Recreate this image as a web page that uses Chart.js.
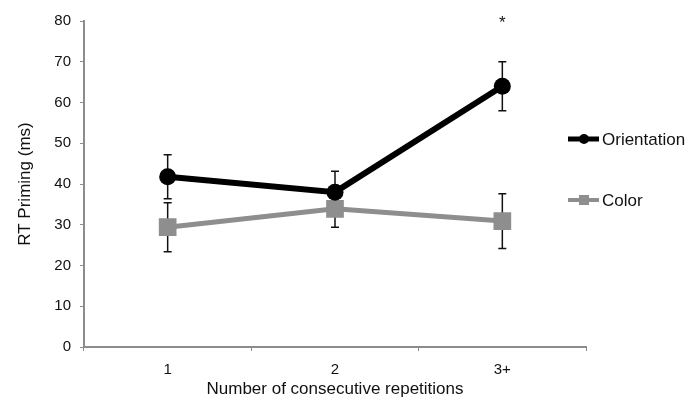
<!DOCTYPE html>
<html>
<head>
<meta charset="utf-8">
<script src="https://cdn.jsdelivr.net/npm/chart.js@4/dist/chart.umd.min.js"></script>
<style>
  html, body { margin: 0; padding: 0; background: #fff; }
  #wrap { width: 688px; height: 400px; }
</style>
</head>
<body>
<div id="wrap"><canvas id="chart" width="688" height="400"></canvas></div>
<script>
// data
const categories = ['1', '2', '3+'];
const orientation = [41.8, 38.0, 64.0];
const orientationErr = [5.4, 5.1, 6.0];
const colorVals = [29.4, 33.9, 30.9];
const colorErr = [6.0, 4.5, 6.7];
const starLabels = ['', '', '*'];
const starValue = 78.3;
const yTicks = [0, 10, 20, 30, 40, 50, 60, 70, 80];

const FONT = '"Liberation Sans", Arial, Helvetica, sans-serif';
const axisGray = '#8c8c8c';

// error bars, drawn under the lines and markers
const errorBars = {
    id: 'errorBars',
    beforeDatasetsDraw(chart) {
        const ctx = chart.ctx;
        const x = chart.scales.x, y = chart.scales.y;
        ctx.save();
        ctx.strokeStyle = '#111';
        ctx.lineWidth = 1.5;
        chart.data.datasets.forEach(ds => {
            ds.data.forEach((v, i) => {
                const e = ds.errors[i];
                const px = x.getPixelForValue(i);
                const top = y.getPixelForValue(v + e);
                const bot = y.getPixelForValue(v - e);
                ctx.beginPath();
                ctx.moveTo(px, top); ctx.lineTo(px, bot);
                ctx.moveTo(px - 4, top); ctx.lineTo(px + 4, top);
                ctx.moveTo(px - 4, bot); ctx.lineTo(px + 4, bot);
                ctx.stroke();
            });
        });
        ctx.restore();
    }
};

// significance star + right hand legend
const extras = {
    id: 'extras',
    afterDraw(chart) {
        const ctx = chart.ctx;
        const x = chart.scales.x, y = chart.scales.y;
        const area = chart.chartArea;
        ctx.save();
        ctx.fillStyle = '#111';
        ctx.font = '17px ' + FONT;
        ctx.textAlign = 'center';
        ctx.textBaseline = 'alphabetic';
        starLabels.forEach((s, i) => {
            if (s) ctx.fillText(s, x.getPixelForValue(i), y.getPixelForValue(starValue));
        });

        const items = chart.data.datasets;
        const lx = area.right - 18;
        const rows = [139, 200];
        items.forEach((ds, k) => {
            const cy = rows[k];
            ctx.strokeStyle = ds.borderColor;
            ctx.fillStyle = ds.borderColor;
            ctx.lineWidth = ds.borderWidth - 1;
            ctx.beginPath();
            ctx.moveTo(lx, cy); ctx.lineTo(lx + 31, cy);
            ctx.stroke();
            if (ds.pointStyle === 'circle') {
                ctx.beginPath();
                ctx.arc(lx + 16, cy, 5, 0, Math.PI * 2);
                ctx.fill();
            } else {
                ctx.fillRect(lx + 11, cy - 5, 10, 10);
            }
            ctx.fillStyle = '#111';
            ctx.font = '17px ' + FONT;
            ctx.textAlign = 'left';
            ctx.textBaseline = 'middle';
            ctx.fillText(ds.label, lx + 34, cy + 1);
        });
        ctx.restore();
    }
};

new Chart(document.getElementById('chart').getContext('2d'), {
    type: 'line',
    data: {
        labels: categories,
        datasets: [
            {
                label: 'Orientation',
                data: orientation,
                errors: orientationErr,
                borderColor: '#000',
                backgroundColor: '#000',
                borderWidth: 6,
                pointStyle: 'circle',
                pointRadius: 8.5,
                pointBorderWidth: 0,
                tension: 0
            },
            {
                label: 'Color',
                data: colorVals,
                errors: colorErr,
                borderColor: '#8e8e8e',
                backgroundColor: '#8e8e8e',
                borderWidth: 5,
                pointStyle: 'rect',
                pointRadius: 12.5,
                pointBorderWidth: 0,
                tension: 0
            }
        ]
    },
    options: {
        responsive: false,
        animation: false,
        layout: { padding: { top: 21, right: 102, bottom: 0, left: 0 } },
        plugins: {
            legend: { display: false },
            tooltip: { enabled: false }
        },
        scales: {
            x: {
                offset: true,
                grid: {
                    offset: true,
                    drawOnChartArea: false,
                    drawTicks: true,
                    tickLength: 4,
                    color: axisGray
                },
                border: { color: axisGray, width: 2 },
                ticks: {
                    color: '#111',
                    font: { family: FONT, size: 15 },
                    padding: 10
                },
                title: {
                    display: true,
                    text: 'Number of consecutive repetitions',
                    color: '#111',
                    font: { family: FONT, size: 17 },
                    padding: { top: 6, bottom: 0 }
                },
                afterFit(scale) { scale.height = 53; }
            },
            y: {
                min: 0,
                max: 80,
                afterBuildTicks(scale) { scale.ticks = yTicks.map(v => ({ value: v })); },
                grid: {
                    drawOnChartArea: false,
                    drawTicks: true,
                    tickLength: 4,
                    color: axisGray
                },
                border: { color: axisGray, width: 2 },
                ticks: {
                    color: '#111',
                    font: { family: FONT, size: 15 },
                    padding: 9
                },
                title: {
                    display: true,
                    text: 'RT Priming (ms)',
                    color: '#111',
                    font: { family: FONT, size: 17 },
                    padding: { top: 15, bottom: 0 }
                },
                afterFit(scale) { scale.width = 84; }
            }
        }
    },
    plugins: [errorBars, extras]
});
</script>
</body>
</html>
